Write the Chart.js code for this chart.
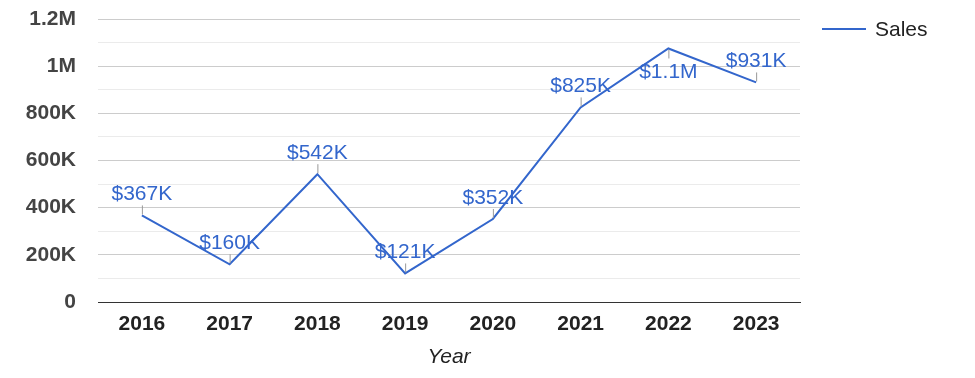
<!DOCTYPE html>
<html>
<head>
<meta charset="utf-8">
<script src="https://cdn.jsdelivr.net/npm/chart.js@4"></script>
<style>
  body { margin: 0; background: #fff; }
  canvas { display: block; }
</style>
</head>
<body>
<canvas id="salesChart" width="975" height="378"></canvas>
<script>
// data
const years = ['2016', '2017', '2018', '2019', '2020', '2021', '2022', '2023'];
const sales = [367000, 160000, 542000, 121000, 352000, 825000, 1075000, 931000];
const yTicks = [0, 200000, 400000, 600000, 800000, 1000000, 1200000];

const FONT = "Arial, 'Liberation Sans', sans-serif";
const BLUE = '#3366cc';

function shortNum(v) {
    if (v >= 1000000) return (v / 1000000).toFixed(1).replace(/\.0$/, '') + 'M';
    if (v >= 1000) return Math.round(v / 1000) + 'K';
    return String(v);
}

// labels with a small leader line above each point (below when near the top)
const pointLabels = {
    id: 'pointLabels',
    afterDatasetsDraw(chart) {
        const ctx = chart.ctx;
        const meta = chart.getDatasetMeta(0);
        ctx.save();
        ctx.font = '21px ' + FONT;
        ctx.textAlign = 'center';
        meta.data.forEach((pt, i) => {
            const below = pt.y - chart.chartArea.top < 40;
            ctx.strokeStyle = '#999';
            ctx.lineWidth = 1;
            ctx.beginPath();
            if (below) {
                ctx.moveTo(pt.x + 0.5, pt.y + 1);
                ctx.lineTo(pt.x + 0.5, pt.y + 10);
            } else {
                ctx.moveTo(pt.x + 0.5, pt.y - 1);
                ctx.lineTo(pt.x + 0.5, pt.y - 10);
            }
            ctx.stroke();
            ctx.fillStyle = BLUE;
            ctx.textBaseline = 'alphabetic';
            ctx.fillText('$' + shortNum(sales[i]), pt.x, below ? pt.y + 30 : pt.y - 15);
        });
        ctx.restore();
    }
};

// legend drawn at the right of the plot
const sideLegend = {
    id: 'sideLegend',
    afterDraw(chart) {
        const ctx = chart.ctx;
        const x = chart.chartArea.right + 22;
        const y = 29;
        ctx.save();
        ctx.strokeStyle = BLUE;
        ctx.lineWidth = 2;
        ctx.beginPath();
        ctx.moveTo(x, y);
        ctx.lineTo(x + 44, y);
        ctx.stroke();
        ctx.fillStyle = '#222';
        ctx.font = '21px ' + FONT;
        ctx.textBaseline = 'middle';
        ctx.fillText(chart.data.datasets[0].label, x + 53, y + 1);
        ctx.restore();
    }
};

let ctx = document.getElementById('salesChart').getContext('2d');

let salesChart = new Chart(ctx, {
    type: 'line',
    data: {
        labels: years,
        datasets: [{
            label: 'Sales',
            data: sales,
            borderColor: BLUE,
            borderWidth: 2,
            pointRadius: 0,
            tension: 0,
            fill: false
        }]
    },
    options: {
        responsive: false,
        animation: false,
        layout: { padding: { top: 19, right: 175, left: 0, bottom: 0 } },
        plugins: {
            legend: { display: false },
            tooltip: { enabled: false }
        },
        scales: {
            x: {
                offset: true,
                grid: { display: false, drawTicks: false },
                border: { display: true, color: '#333', width: 1 },
                ticks: {
                    padding: 10,
                    color: '#222',
                    font: { family: FONT, size: 21, weight: 'bold' }
                },
                title: {
                    display: true,
                    text: 'Year',
                    color: '#222',
                    font: { family: FONT, size: 21, style: 'italic' },
                    padding: { top: 0, bottom: 8 }
                },
                afterFit(scale) { scale.height = 76; }
            },
            y: {
                min: 0,
                max: 1200000,
                border: { display: false },
                grid: {
                    drawTicks: false,
                    color: c => c.tick.value === 0 ? '#333' : (yTicks.includes(c.tick.value) ? '#cccccc' : '#ebebeb')
                },
                ticks: {
                    stepSize: 100000,
                    autoSkip: false,
                    padding: 22,
                    color: '#444',
                    font: { family: FONT, size: 21, weight: 'bold' },
                    callback: v => yTicks.includes(v) ? shortNum(v) : ''
                },
                afterFit(scale) {
                    scale.width = 98;
                    scale.paddingTop = 0;
                    scale.paddingBottom = 0;
                }
            }
        }
    },
    plugins: [pointLabels, sideLegend]
});
</script>
</body>
</html>
